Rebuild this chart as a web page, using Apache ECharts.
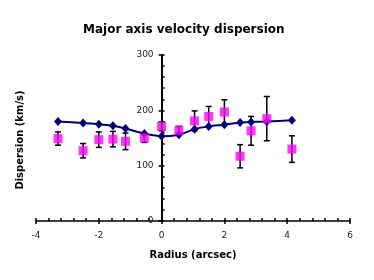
<!DOCTYPE html>
<html>
<head>
<meta charset="utf-8">
<script src="https://cdn.jsdelivr.net/npm/echarts@6/dist/echarts.min.js"></script>
<style>html,body{margin:0;padding:0;background:#fff;}#c{width:374px;height:280px;}</style>
</head>
<body>
<div id="c"></div>
<script>
var radius = [-3.3, -2.5, -2.0, -1.55, -1.15, -0.55, 0, 0.55, 1.05, 1.5, 2.0, 2.5, 2.85, 3.35, 4.15];
var model = [180, 177, 175, 172, 167, 158, 153, 156, 166, 171, 174, 178, 179, 180, 182];
var observed = [149, 127, 147, 148, 144, 150, 171, 164, 181, 189, 197, 117, 163, 185, 130];
var errors = [12, 13, 14, 14, 15, 8, 8, 7, 18, 18, 22, 21, 26, 40, 24];
var xTicks = [-4, -2, 0, 2, 4, 6];
var yTicks = [0, 100, 200, 300];

var chart = echarts.init(document.getElementById('c'));
var FONT = 'DejaVu Sans';
var GRID = { left: 36, right: 24, top: 55, bottom: 59 };
var gridW = 374 - GRID.left - GRID.right;
var xMin = xTicks[0], xMax = xTicks[xTicks.length - 1];
// place the y axis at x = 0 of the x scale
var yAxisOffset = -((0 - xMin) / (xMax - xMin)) * gridW;

var modelData = radius.map(function (r, i) { return [r, model[i]]; });
var obsData = radius.map(function (r, i) { return [r, observed[i]]; });
var errData = radius.map(function (r, i) { return [r, observed[i] - errors[i], observed[i] + errors[i]]; });

function baseX(extra) {
  return Object.assign({
    type: 'value', min: xMin, max: xMax, interval: 2,
    position: 'bottom', splitLine: { show: false }
  }, extra);
}
function baseY(extra) {
  return Object.assign({
    type: 'value', min: yTicks[0], max: yTicks[yTicks.length - 1], interval: 100,
    position: 'left', offset: yAxisOffset, splitLine: { show: false }
  }, extra);
}

chart.setOption({
  backgroundColor: '#fff',
  animation: false,
  title: {
    text: 'Major axis velocity dispersion',
    left: 78, top: 19,
    textStyle: { fontFamily: FONT, fontSize: 12, fontWeight: 'bold', color: '#000' }
  },
  grid: GRID,
  xAxis: [
    baseX({
      axisLine: { show: true, onZero: false, lineStyle: { color: '#000', width: 1.5 } },
      axisTick: { show: true, inside: true, length: 3, lineStyle: { color: '#000', width: 1.5 } },
      minorTick: { show: true, splitNumber: 5, length: 3, lineStyle: { color: '#000', width: 1.5 } },
      axisLabel: { fontFamily: FONT, fontSize: 9, color: '#222', margin: 10 },
      name: 'Radius (arcsec)', nameLocation: 'middle', nameGap: 29,
      nameTextStyle: { fontFamily: FONT, fontSize: 10, fontWeight: 'bold', color: '#000' }
    }),
    baseX({
      axisLine: { show: false, onZero: false },
      axisTick: { show: true, inside: false, length: 3, lineStyle: { color: '#000', width: 1.5 } },
      axisLabel: { show: false }
    })
  ],
  yAxis: [
    baseY({
      axisLine: { show: true, onZero: false, lineStyle: { color: '#000', width: 2 } },
      axisTick: { show: true, inside: true, length: 3, lineStyle: { color: '#000', width: 1.5 } },
      minorTick: { show: true, splitNumber: 5, length: 3, lineStyle: { color: '#000', width: 1.5 } },
      axisLabel: { fontFamily: FONT, fontSize: 9, color: '#222', margin: 8 }
    }),
    baseY({
      axisLine: { show: false, onZero: false },
      axisTick: { show: true, inside: false, length: 3, lineStyle: { color: '#000', width: 1.5 } },
      axisLabel: { show: false }
    })
  ],
  graphic: [{
    type: 'text', left: 15, top: 'middle', rotation: Math.PI / 2,
    style: { text: 'Dispersion (km/s)', fontFamily: FONT, fontSize: 10, fontWeight: 'bold', fill: '#000' }
  }],
  series: [
    {
      type: 'custom', name: 'err', z: 2,
      renderItem: function (params, api) {
        var x = api.value(0);
        var lo = api.coord([x, api.value(1)]);
        var hi = api.coord([x, api.value(2)]);
        var w = 3;
        var st = { stroke: '#000', lineWidth: 1.5 };
        return {
          type: 'group', children: [
            { type: 'line', shape: { x1: lo[0], y1: lo[1], x2: hi[0], y2: hi[1] }, style: st },
            { type: 'line', shape: { x1: lo[0] - w, y1: lo[1], x2: lo[0] + w, y2: lo[1] }, style: st },
            { type: 'line', shape: { x1: hi[0] - w, y1: hi[1], x2: hi[0] + w, y2: hi[1] }, style: st }
          ]
        };
      },
      encode: { x: 0, y: [1, 2] },
      data: errData
    },
    {
      type: 'line', name: 'model', z: 3, data: modelData, smooth: 0.2,
      symbol: 'diamond', symbolSize: [8, 9],
      lineStyle: { color: '#000080', width: 2 },
      itemStyle: { color: '#000080' }
    },
    {
      type: 'scatter', name: 'observed', z: 4, data: obsData,
      symbol: 'rect', symbolSize: 9,
      itemStyle: { color: '#ff00ff' }
    }
  ]
});
</script>
</body>
</html>
